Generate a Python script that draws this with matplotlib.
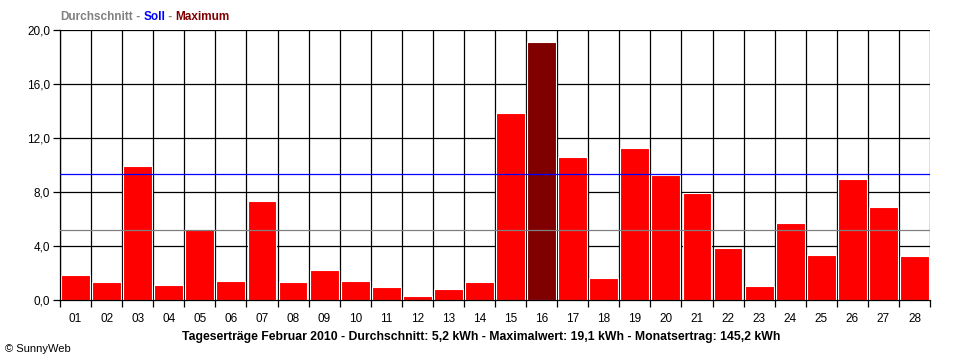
import matplotlib
matplotlib.use("Agg")
import matplotlib.pyplot as plt
import numpy as np

days = ["01","02","03","04","05","06","07","08","09","10","11","12","13","14",
        "15","16","17","18","19","20","21","22","23","24","25","26","27","28"]
values = [1.87, 1.36, 9.95, 1.13, 5.28, 1.43, 7.36, 1.36, 2.24, 1.43, 0.99, 0.32, 0.84, 1.36,
          13.87, 19.1, 10.6, 1.65, 11.28, 9.28, 7.95, 3.87, 1.06, 5.73, 3.35, 8.99, 6.91, 3.28]
average = 5.19
soll = 9.33
yticks = [0, 4, 8, 12, 16, 20]
ytick_labels = ["0,0", "4,0", "8,0", "12,0", "16,0", "20,0"]
footer = "Tageserträge Februar 2010 - Durchschnitt: 5,2 kWh - Maximalwert: 19,1 kWh - Monatsertrag: 145,2 kWh"

plt.rcParams['font.family'] = ['Liberation Sans', 'DejaVu Sans']

fig = plt.figure(figsize=(9.6, 3.6), dpi=100)
ax = fig.add_axes([60/960, 1-300/360, 870/960, 270/360])

LW = 0.9
x = np.arange(len(values))
imax = int(np.argmax(values))
colors = ["#800000" if i == imax else "#FF0000" for i in range(len(values))]
ax.bar(x, values, width=0.93, color=colors, edgecolor="white", linewidth=0.8, zorder=2)

ax.axhline(average, color="#808080", lw=LW, zorder=3)
ax.axhline(soll, color="#0000FF", lw=LW, zorder=3)

ax.set_xlim(-0.5, len(values) - 0.5)
ax.set_ylim(0, 20)

# grid
for b in np.arange(-0.5, len(values), 1.0):
    ax.axvline(b, color="black", lw=LW, zorder=1)
for yv in yticks[1:]:
    ax.axhline(yv, color="black", lw=LW, zorder=1)

ax.set_xticks(x)
ax.set_xticklabels(days, fontsize=8.5)
ax.set_xticks(np.arange(-0.5, len(values), 1.0), minor=True)
ax.tick_params(axis="x", which="major", length=0, pad=9)
ax.tick_params(axis="x", which="minor", length=5, width=LW, color="black")
ax.set_yticks(yticks)
ax.set_yticklabels(ytick_labels, fontsize=8.5)
ax.tick_params(axis="y", length=5, width=LW, pad=2)

for s in ["top", "right"]:
    ax.spines[s].set_visible(False)
ax.spines["left"].set_linewidth(LW)
ax.spines["bottom"].set_linewidth(LW)

# header legend text
t1 = fig.text(60/960, 1-17/360, "Durchschnitt", color="#808080", fontsize=8.5,
              fontweight="bold", va="center", ha="left")
t2 = ax.annotate(" - ", xy=(1, 0), xycoords=t1, color="#808080", fontsize=8.5,
                 fontweight="bold", va="bottom", ha="left", annotation_clip=False)
t3 = ax.annotate("Soll", xy=(1, 0), xycoords=t2, color="#0000FF", fontsize=8.5,
                 fontweight="bold", va="bottom", ha="left", annotation_clip=False)
t4 = ax.annotate(" - ", xy=(1, 0), xycoords=t3, color="#808080", fontsize=8.5,
                 fontweight="bold", va="bottom", ha="left", annotation_clip=False)
t5 = ax.annotate("Maximum", xy=(1, 0), xycoords=t4, color="#800000", fontsize=8.5,
                 fontweight="bold", va="bottom", ha="left", annotation_clip=False)

fig.text(481/960, 1-337/360, footer, fontsize=8.8, fontweight="bold",
         ha="center", va="center", color="black")
fig.text(5/960, 1-349/360, "© SunnyWeb", fontsize=8, ha="left", va="center", color="black")

fig.savefig("out.png", dpi=100)
